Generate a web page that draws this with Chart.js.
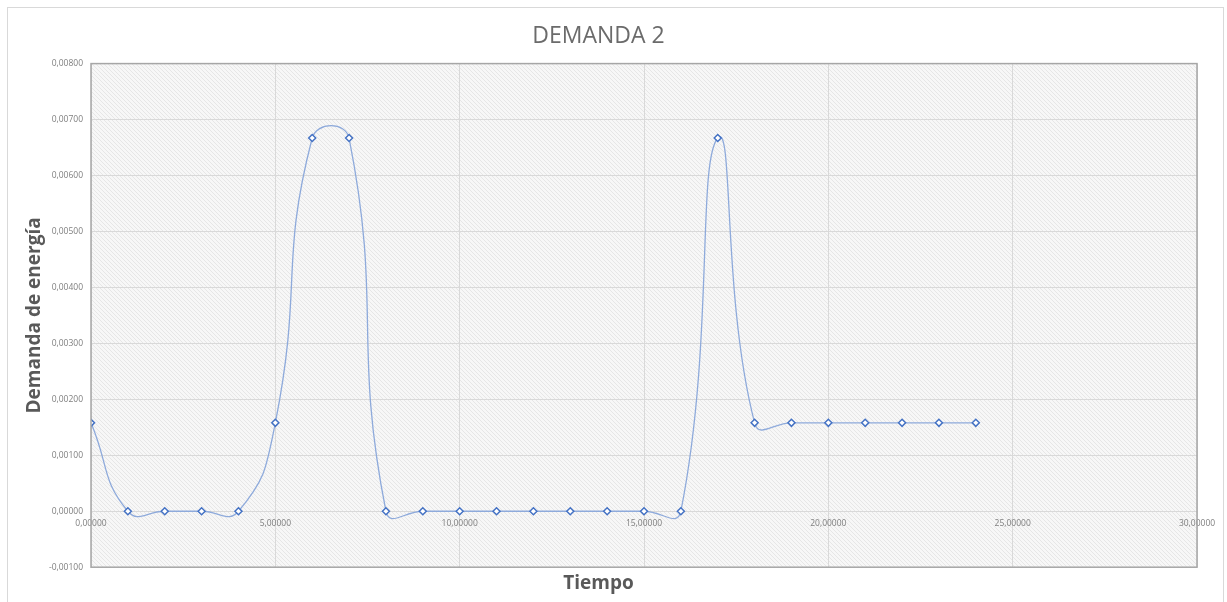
<!DOCTYPE html>
<html>
<head>
<meta charset="utf-8">
<script src="https://cdn.jsdelivr.net/npm/chart.js@4.4.0/dist/chart.umd.min.js"></script>
<style>
  html, body { margin: 0; padding: 0; background: #fff; }
  #wrap { width: 1227px; height: 602px; }
</style>
</head>
<body>
<div id="wrap"><canvas id="mycanvas" width="1227" height="602"></canvas></div>
<script>
// tiempo (horas) y demanda de energía
var tiempo = [0, 1, 2, 3, 4, 5, 6, 7, 8, 9, 10, 11, 12, 13, 14, 15, 16, 17, 18, 19, 20, 21, 22, 23, 24];
var demanda = [0.00158, 0, 0, 0, 0, 0.00158, 0.00667, 0.00667, 0, 0, 0, 0, 0, 0, 0, 0, 0, 0.00667, 0.00158, 0.00158, 0.00158, 0.00158, 0.00158, 0.00158, 0.00158];

var ejeX = { min: 0, max: 30, step: 5 };
var ejeY = { min: -0.001, max: 0.008, step: 0.001 };

function fmt(v) {
  return v.toFixed(5).replace('.', ',');
}

var puntos = [];
for (var i in tiempo) {
  puntos.push({ x: tiempo[i], y: demanda[i] });
}

// fondo rayado del area de trazado
function hatch(ctx) {
  var c = document.createElement('canvas');
  c.width = 4; c.height = 4;
  var g = c.getContext('2d');
  g.fillStyle = '#f7f7f7';
  g.fillRect(0, 0, 4, 4);
  g.strokeStyle = '#e6e6e6';
  g.lineWidth = 1;
  g.beginPath();
  g.moveTo(0, 0); g.lineTo(4, 4);
  g.moveTo(-1, 3); g.lineTo(1, 5);
  g.moveTo(3, -1); g.lineTo(5, 1);
  g.stroke();
  return ctx.createPattern(c, 'repeat');
}

var marco = {
  id: 'marco',
  beforeDraw: function(chart) {
    var ctx = chart.ctx, a = chart.chartArea;
    ctx.save();
    ctx.fillStyle = '#fff';
    ctx.fillRect(0, 0, chart.width, chart.height);
    ctx.strokeStyle = '#d9d9d9';
    ctx.lineWidth = 1;
    ctx.strokeRect(7.5, 7.5, 1216, 610);
    ctx.fillStyle = hatch(ctx);
    ctx.fillRect(a.left, a.top, a.right - a.left, a.bottom - a.top);
    ctx.restore();
  },
  afterDatasetsDraw: function(chart) {
    var ctx = chart.ctx, a = chart.chartArea;
    ctx.save();
    ctx.strokeStyle = '#a6a6a6';
    ctx.lineWidth = 1.5;
    ctx.strokeRect(a.left, a.top, a.right - a.left, a.bottom - a.top);
    ctx.restore();
  }
};

var ctx = document.getElementById('mycanvas');

var chart = new Chart(ctx, {
  type: 'line',
  data: {
    datasets: [{
      label: 'Demanda',
      data: puntos,
      borderColor: '#8eaadb',
      borderWidth: 1.3,
      tension: 0.5,
      fill: false,
      pointStyle: 'rectRot',
      pointRadius: 3.5,
      pointBorderWidth: 1.5,
      pointBorderColor: '#4472c4',
      pointBackgroundColor: '#ffffff'
    }]
  },
  options: {
    responsive: false,
    animation: false,
    layout: { padding: { left: 0, right: 30, top: 13, bottom: 2 } },
    plugins: {
      legend: { display: false },
      tooltip: { enabled: false },
      title: {
        display: true,
        text: 'DEMANDA 2',
        color: '#6b6b6b',
        font: { family: 'Open Sans', size: 23, weight: 'normal', lineHeight: 1.2 },
        padding: { top: 10, bottom: 13 }
      },
      subtitle: {
        display: true,
        position: 'bottom',
        text: 'Tiempo',
        color: '#595959',
        font: { family: 'Open Sans', size: 19, weight: 'bold', lineHeight: 1.2 },
        padding: { top: 5, bottom: 5 }
      }
    },
    scales: {
      x: {
        type: 'linear',
        position: { y: 0 },
        min: ejeX.min,
        max: ejeX.max,
        ticks: {
          stepSize: ejeX.step,
          padding: 7,
          color: '#7f7f7f',
          font: { family: 'Open Sans', size: 8.5 },
          callback: function(v) { return fmt(v); }
        },
        grid: { color: '#d9d9d9', drawTicks: false },
        border: { color: '#d9d9d9' }
      },
      y: {
        min: ejeY.min,
        max: ejeY.max,
        afterFit: function(scale) { scale.width = 91; },
        ticks: {
          stepSize: ejeY.step,
          padding: 8,
          color: '#7f7f7f',
          font: { family: 'Open Sans', size: 8.5 },
          callback: function(v) { return fmt(v); }
        },
        grid: { color: '#d9d9d9', drawTicks: false },
        border: { display: false },
        title: {
          display: true,
          text: 'Demanda de energía',
          color: '#595959',
          font: { family: 'Open Sans', size: 19, weight: 'bold', lineHeight: 1.2 },
          padding: { top: 23, bottom: 0 }
        }
      }
    }
  },
  plugins: [marco]
});
</script>
</body>
</html>
